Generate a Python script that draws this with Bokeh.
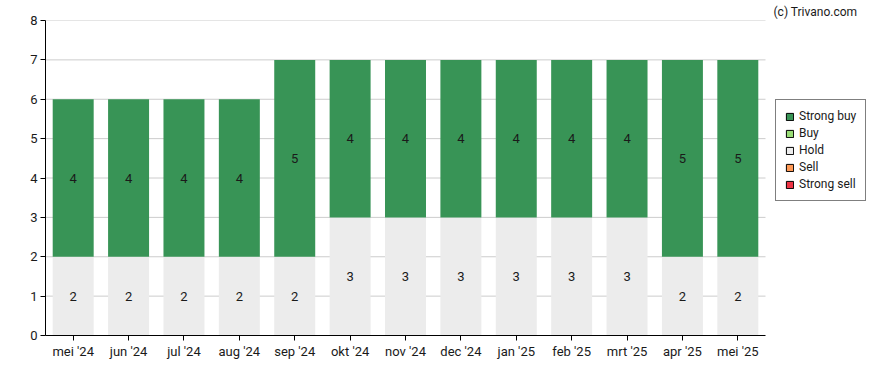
import math
from bokeh.plotting import figure
from bokeh.models import (ColumnDataSource, Range1d, FixedTicker, Legend,
                          LegendItem, Title)
from bokeh.core.properties import value
from bokeh.embed import file_html
from bokeh.resources import INLINE

months = ["mei '24", "jun '24", "jul '24", "aug '24", "sep '24", "okt '24", "nov '24",
          "dec '24", "jan '25", "feb '25", "mrt '25", "apr '25", "mei '25"]
strong_buy = [4, 4, 4, 4, 5, 4, 4, 4, 4, 4, 4, 5, 5]
buy = [0] * 13
hold = [2, 2, 2, 2, 2, 3, 3, 3, 3, 3, 3, 2, 2]
sell = [0] * 13
strong_sell = [0] * 13
y_ticks = [0, 1, 2, 3, 4, 5, 6, 7, 8]

series = ["Strong sell", "Sell", "Hold", "Buy", "Strong buy"]
colors = {"Strong buy": "#389456", "Buy": "#99dd77", "Hold": "#ececec",
          "Sell": "#ff9955", "Strong sell": "#ee3344"}

FONT = "Roboto"
TXT = "#1a1a1a"

n = len(months)
xpos = [i + 0.5 for i in range(n)]
src = ColumnDataSource(dict(x=xpos, **{"Strong sell": strong_sell, "Sell": sell,
                                       "Hold": hold, "Buy": buy, "Strong buy": strong_buy}))

LEFT, TOP, BOTTOM = 45, 20, 35
W, H = 888, 370
cat_px = 720  # pixel span of category axis
frame_w = W - LEFT
x_end = n * frame_w / cat_px

p = figure(x_range=Range1d(0, x_end), y_range=Range1d(0, 8),
           width=W, height=H, output_backend="svg", toolbar_location=None,
           min_border_left=LEFT, min_border_right=0, min_border_top=TOP, min_border_bottom=BOTTOM)
p.outline_line_color = None

# grid lines (limited to the category span)
p.xgrid.grid_line_color = None
p.ygrid.grid_line_color = None
gy = y_ticks[1:]
p.segment(x0=[0] * len(gy), x1=[n] * len(gy), y0=gy, y1=gy, line_color="#cccccc", line_width=1)

p.vbar_stack(series, x="x", width=0.74, source=src,
             color=[colors[s] for s in series], line_color=None)

# value labels
lx, ly, lt = [], [], []
for i in range(n):
    base = 0
    for vals in [strong_sell, sell, hold, buy, strong_buy]:
        v = vals[i]
        if v > 0:
            lx.append(xpos[i])
            ly.append(base + v / 2)
            lt.append(str(v))
        base += v
p.text(x=lx, y=ly, text=lt, text_align="center", text_baseline="middle",
       text_font=value(FONT), text_font_size="13px", text_color=TXT)

# axes
p.xaxis.ticker = FixedTicker(ticks=xpos)
p.xaxis.major_label_overrides = {x: m for x, m in zip(xpos, months)}
p.xaxis.bounds = (0, n)
p.yaxis.ticker = FixedTicker(ticks=y_ticks)
for ax in (p.xaxis[0], p.yaxis[0]):
    ax.axis_line_color = "black"
    ax.major_tick_line_color = "black"
    ax.major_tick_out = 5
    ax.major_tick_in = 0
    ax.minor_tick_line_color = None
    ax.major_label_text_font = FONT
    ax.major_label_text_font_size = "13px"
    ax.major_label_text_color = TXT
    ax.major_label_standoff = 3

# legend (swatches from empty quads)
leg_items = []
for s in ["Strong buy", "Buy", "Hold", "Sell", "Strong sell"]:
    r = p.quad(left=[math.nan], right=[math.nan], bottom=[math.nan], top=[math.nan],
               fill_color=colors[s], line_color="black", line_width=1)
    leg_items.append(LegendItem(label=s, renderers=[r]))
legend = Legend(items=leg_items, location=(730, 134), border_line_color="black",
                border_line_width=1, background_fill_color="white", background_fill_alpha=1,
                label_text_font=FONT, label_text_font_size="12px", label_text_color=TXT,
                glyph_width=9, glyph_height=9, label_height=13, spacing=3, padding=9,
                label_standoff=5, margin=0)
p.add_layout(legend, "center")

p.add_layout(Title(text="(c) Trivano.com", align="left", offset=728, standoff=4,
                   text_font=FONT, text_font_size="12px", text_font_style="normal",
                   text_color=TXT), "above")

open("out.html", "w").write(file_html(p, INLINE))
